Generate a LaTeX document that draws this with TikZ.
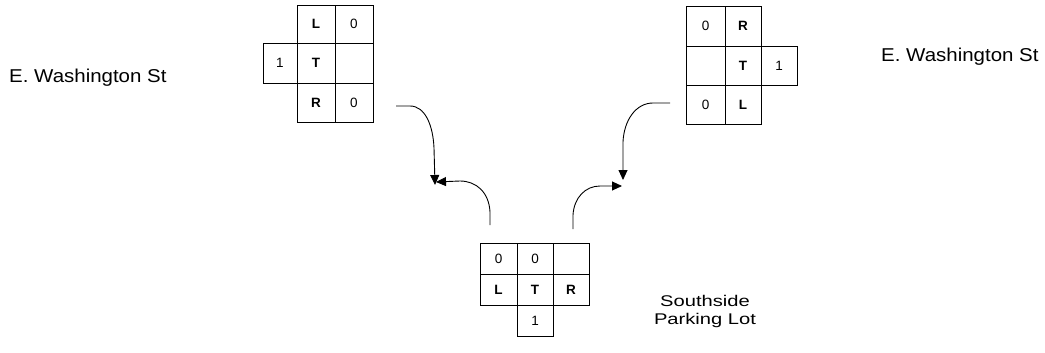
\documentclass[tikz,border=0pt]{standalone}
\usepackage{fontspec}
\setmainfont{Liberation Sans}
\newfontfamily\streetfont[FakeStretch=1.1]{Liberation Sans}
\newfontfamily\lotfont[FakeStretch=1.3]{Liberation Sans}
\usetikzlibrary{arrows.meta}
\newcommand{\cellbox}[6]{\node[cell, minimum width={#4pt-#2pt}, minimum height={#5pt-#3pt}] (#1) at ({(#2+#4)/2},{(#3+#5)/2}) {#6};}
\begin{document}
\begin{tikzpicture}[x=1pt,y=-1pt,
  cell/.style={draw, line width=0.8pt, inner sep=0pt, font=\fontsize{13.5}{15}\selectfont},
  arr/.style={line width=0.9pt, -{Triangle[length=10pt,width=9pt]}},
  street/.style={anchor=base west, inner sep=0pt, font=\streetfont\fontsize{18.6}{22}\selectfont},
  lot/.style={anchor=base, inner sep=0pt, align=center, font=\lotfont\fontsize{15.5}{18}\selectfont}]
\useasboundingbox (0,0) rectangle (1045,353);
% left grid
\cellbox{lL}{297}{5}{335}{43}{\textbf{L}}
\cellbox{lL0}{335}{5}{373}{43}{0}
\cellbox{l1}{263}{43}{297}{83}{1}
\cellbox{lT}{297}{43}{335}{83}{\textbf{T}}
\cellbox{lE}{335}{43}{373}{83}{}
\cellbox{lR}{297}{83}{335}{122}{\textbf{R}}
\cellbox{lR0}{335}{83}{373}{122}{0}
% right grid
\cellbox{rR0}{686}{6}{725}{46}{0}
\cellbox{rR}{725}{6}{761}{46}{\textbf{R}}
\cellbox{rE}{686}{46}{725}{85}{}
\cellbox{rT}{725}{46}{761}{85}{\textbf{T}}
\cellbox{r1}{761}{46}{797}{85}{1}
\cellbox{rL0}{686}{85}{725}{124}{0}
\cellbox{rL}{725}{85}{761}{124}{\textbf{L}}
% bottom grid
\cellbox{bL0}{480}{243}{517}{274}{0}
\cellbox{bT0}{517}{243}{553}{274}{0}
\cellbox{bE}{553}{243}{589}{274}{}
\cellbox{bL}{480}{274}{517}{305}{\textbf{L}}
\cellbox{bT}{517}{274}{553}{305}{\textbf{T}}
\cellbox{bR}{553}{274}{589}{305}{\textbf{R}}
\cellbox{b1}{517}{305}{553}{336}{1}
% labels
\node[street] (wl) at (9,82) {E. Washington St};
\node[street] (wr) at (881,62) {E. Washington St};
\node[lot] (lot) at (705,324) {Southside\\Parking Lot};
% arrows
\coordinate (a1s) at (396,106);
\coordinate (a1e) at (435,185);
\coordinate (a2s) at (490,225);
\coordinate (a2e) at (436,182);
\coordinate (a3s) at (670,103);
\coordinate (a3e) at (623,180);
\coordinate (a4s) at (573,229);
\coordinate (a4e) at (622,186);
\draw[arr] (a1s) -- (410,106) .. controls (425,106) and (433,125) .. (434,148) -- (a1e);
\draw[arr] (a2s) -- (490,212) .. controls (489,192) and (476,181) .. (460,181) -- (a2e);
\draw[arr] (a3s) -- (653,103) .. controls (636,103) and (624,120) .. (623,142) -- (a3e);
\draw[arr] (a4s) -- (573,215) .. controls (574,198) and (585,186) .. (600,186) -- (a4e);
\end{tikzpicture}
\end{document}
